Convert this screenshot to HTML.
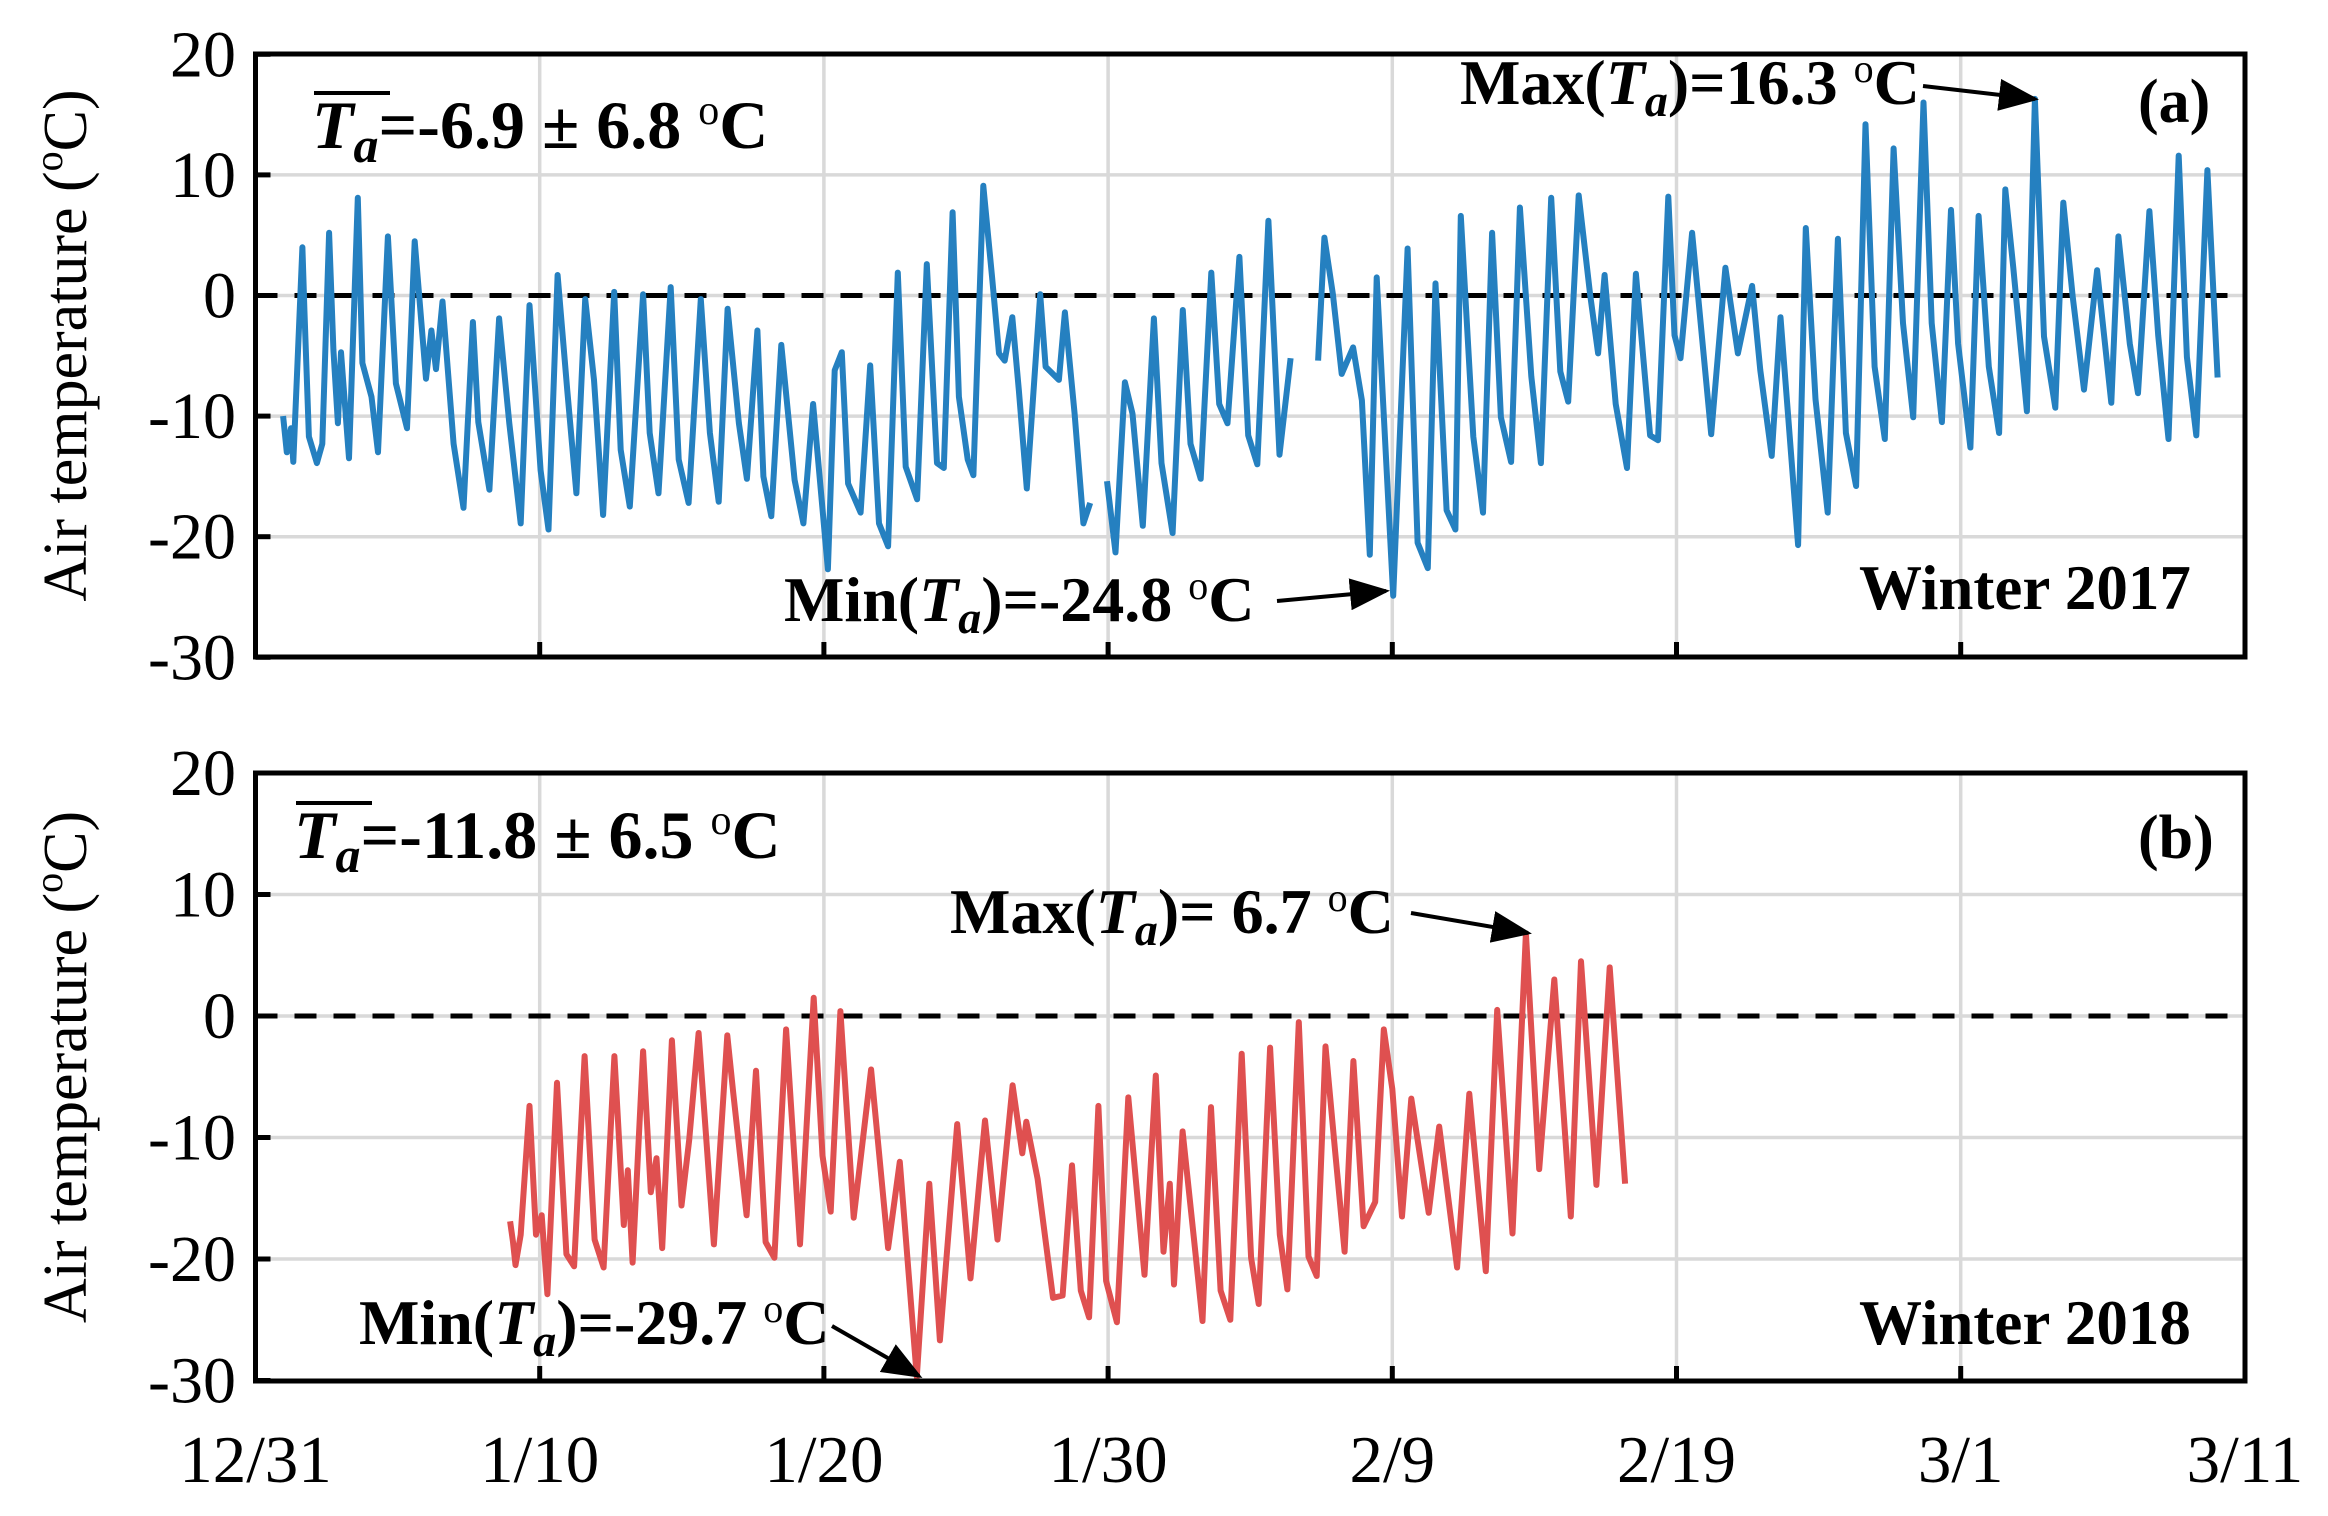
<!DOCTYPE html>
<html><head><meta charset="utf-8"><style>
html,body{margin:0;padding:0;background:#fff;}
svg{display:block;font-family:"Liberation Serif","Times New Roman",serif;}
</style></head><body>
<svg id="chart" width="2328" height="1516" viewBox="0 0 2328 1516" xmlns="http://www.w3.org/2000/svg">
<g id="grid"></g>
<g id="series"></g>
<g id="frames"></g>
<g id="labels"></g>
</svg>
<script>
// ---------- data ----------
const xTickLabels = ["12/31","1/10","1/20","1/30","2/9","2/19","3/1","3/11"];
const yTickLabels = [20,10,0,-10,-20,-30];
// Winter 2017 (panel a): day offset from 12/31, temperature in °C (null = data gap)
const dayA = [0.97,1.10,1.25,1.33,1.65,1.72,1.88,2.16,2.35,2.59,2.74,2.90,3.01,3.29,3.60,3.76,4.08,4.31,4.66,4.94,5.33,5.60,6.00,6.19,6.35,6.58,6.97,7.32,7.65,7.84,8.23,8.57,8.93,9.33,9.64,10.03,10.31,10.63,10.97,11.29,11.60,11.91,12.23,12.62,12.85,13.17,13.64,13.87,14.18,14.61,14.89,15.24,15.67,15.99,16.30,16.61,17.01,17.29,17.66,17.87,18.15,18.50,18.97,19.28,19.62,20.14,20.38,20.63,20.85,21.29,21.63,21.94,22.26,22.60,22.88,23.28,23.62,23.98,24.22,24.53,24.75,25.06,25.26,25.61,25.92,26.16,26.36,26.63,26.86,27.14,27.61,27.80,28.27,28.48,28.82,29.13,29.37,29.6,29.96,30.26,30.59,30.86,31.22,31.61,31.88,32.27,32.63,32.90,33.26,33.63,33.91,34.20,34.62,34.93,35.25,35.64,36.03,36.42,36.9,37.39,37.61,37.91,38.22,38.62,38.93,39.21,39.45,39.68,40.03,40.54,40.89,41.25,41.52,41.91,42.22,42.41,42.85,43.19,43.51,43.82,44.18,44.49,44.89,45.23,45.59,45.91,46.19,46.56,46.96,47.24,47.47,47.86,48.26,48.57,49.07,49.35,49.71,49.93,50.14,50.55,51.22,51.72,52.16,52.66,52.95,53.35,53.66,54.28,54.55,54.89,55.32,55.68,55.96,56.32,56.65,56.97,57.33,57.64,57.97,58.33,58.69,58.98,59.34,59.66,59.91,60.34,60.63,60.99,61.35,61.57,61.85,62.33,62.61,62.93,63.33,63.61,63.94,64.34,64.80,65.30,65.55,65.95,66.24,66.64,66.95,67.31,67.67,67.96,68.29,68.68,69.04];
const tempA = [-10,-13,-11,-13.8,4,-1.2,-11.7,-13.9,-12.3,5.2,-4.5,-10.6,-4.7,-13.5,8.1,-5.6,-8.4,-13,4.9,-7.3,-11,4.5,-6.9,-2.9,-6.1,-0.5,-12.3,-17.6,-2.2,-10.5,-16.1,-1.9,-10.6,-18.9,-0.8,-14.5,-19.4,1.7,-7.9,-16.4,-0.3,-7,-18.2,0.3,-12.8,-17.5,0.1,-11.4,-16.4,0.7,-13.6,-17.2,-0.3,-11.4,-17.1,-1.1,-10.6,-15.2,-2.9,-15,-18.3,-4.1,-15.3,-18.9,-9,-22.7,-6.2,-4.7,-15.6,-18,-5.8,-18.9,-20.8,1.9,-14.2,-16.9,2.6,-13.9,-14.3,6.9,-8.4,-13.6,-14.9,9.1,1.5,-4.8,-5.4,-1.8,-7.9,-16,0.1,-5.9,-7,-1.4,-9.8,-18.9,-17.2,null,-15.4,-21.3,-7.2,-9.8,-19.1,-1.9,-13.9,-19.7,-1.2,-12.3,-15.2,1.9,-9,-10.6,3.2,-11.6,-14,6.2,-13.2,-5.2,null,-5.4,4.8,0.1,-6.5,-4.3,-8.7,-21.5,1.5,-9,-24.9,3.9,-20.5,-22.6,1,-17.8,-19.4,6.6,-11.7,-18,5.2,-10.1,-13.8,7.3,-6.7,-13.9,8.1,-6.3,-8.8,8.3,0.1,-4.8,1.7,-9,-14.3,1.8,-11.6,-12,8.2,-3.3,-5.2,5.2,-11.5,2.3,-4.8,0.8,-6.2,-13.3,-1.8,-20.7,5.6,-8.6,-18,4.7,-11.4,-15.8,14.2,-5.9,-11.9,12.2,-2.3,-10.1,16,-2.3,-10.5,7.1,-4,-12.6,6.6,-5.9,-11.4,8.8,2.3,-9.6,16.3,-3.4,-9.3,7.7,-0.1,-7.8,2.1,-8.9,4.9,-4,-8.1,7,-3.3,-11.9,11.6,-5.1,-11.6,10.4,-6.8];
// Winter 2018 (panel b)
const dayB = [8.96,9.06,9.15,9.33,9.64,9.87,10.07,10.27,10.61,10.94,11.21,11.58,11.93,12.25,12.63,12.96,13.10,13.27,13.64,13.91,14.11,14.31,14.65,14.99,15.26,15.59,16.13,16.60,16.81,17.28,17.61,17.95,18.26,18.67,19.16,19.64,19.95,20.24,20.58,21.05,21.66,22.26,22.67,23.27,23.71,24.08,24.69,25.16,25.67,26.11,26.64,26.98,27.12,27.52,28.06,28.40,28.73,29.04,29.33,29.66,29.93,30.31,30.71,31.28,31.68,31.95,32.17,32.32,32.62,33.02,33.32,33.62,33.96,34.30,34.70,35.03,35.30,35.70,36.04,36.31,36.71,37.05,37.34,37.65,37.99,38.32,38.63,38.99,39.40,39.70,40.00,40.34,40.67,41.28,41.65,42.28,42.71,43.29,43.69,44.23,44.70,45.17,45.70,46.28,46.64,47.18,47.65,48.19];
const tempB = [-16.9,-18.6,-20.5,-18,-7.4,-18,-16.4,-22.9,-5.5,-19.6,-20.6,-3.3,-18.4,-20.7,-3.3,-17.2,-12.7,-20.3,-2.9,-14.5,-11.7,-19.1,-2,-15.6,-10.2,-1.4,-18.8,-1.6,-6.3,-16.4,-4.5,-18.6,-19.9,-1.1,-18.8,1.5,-11.5,-16.1,0.4,-16.6,-4.4,-19.1,-12,-29.7,-13.8,-26.7,-8.9,-21.6,-8.6,-18.4,-5.7,-11.3,-8.7,-13.4,-23.2,-23,-12.3,-22.6,-24.8,-7.4,-21.8,-25.2,-6.7,-21.3,-4.9,-19.4,-13.8,-22.1,-9.5,-18.3,-25.1,-7.5,-22.6,-25,-3.1,-19.9,-23.7,-2.6,-18,-22.5,-0.5,-19.8,-21.4,-2.5,-11.2,-19.4,-3.7,-17.3,-15.3,-1.1,-6,-16.5,-6.8,-16.2,-9.1,-20.7,-6.4,-21,0.5,-17.9,6.8,-12.6,3,-16.5,4.5,-13.9,4,-13.8];

// ---------- layout ----------
const X0 = 255.5, DAYPX = 284.2/10, XR = 2245;
const panels = [
  {name:"a", top:54, bottom:657, zeroY:295.5, per:12.06, days:dayA, temps:tempA, color:"#2580c0"},
  {name:"b", top:773, bottom:1381, zeroY:1016, per:12.15, days:dayB, temps:tempB, color:"#df5050"}
];
const NS = "http://www.w3.org/2000/svg";
function xScale(d){ return X0 + d*DAYPX; }
function mk(tag, attrs, parent){ const e=document.createElementNS(NS,tag); for(const k in attrs) e.setAttribute(k,attrs[k]); parent.appendChild(e); return e; }
const grid=document.getElementById('grid'), series=document.getElementById('series'), frames=document.getElementById('frames'), labels=document.getElementById('labels');

panels.forEach(p=>{
  const yScale = v => p.zeroY - v*p.per;
  for(let i=1;i<xTickLabels.length-1;i++){
    const gx = xScale(i*10);
    const l = mk('line',{x1:gx,x2:gx,y1:p.top,y2:p.bottom,stroke:"#d9d9d9","stroke-width":3.5},grid);
    
    
  }
  yTickLabels.forEach(v=>{
    if(v===20||v===-30) return;
    const gy=yScale(v);
    const l=mk('line',{x1:X0,x2:XR,y1:gy,y2:gy,stroke:"#d9d9d9","stroke-width":3.5},grid);
    
    
  });
  const z=mk('line',{x1:X0,x2:XR,y1:yScale(0),y2:yScale(0),stroke:"#000","stroke-width":5,"stroke-dasharray":"22 17"},grid);
  
  
  let d="", pen=false;
  for(let i=0;i<p.days.length;i++){
    const v=p.temps[i];
    if(v===null){pen=false;continue;}
    d += (pen?"L":"M")+xScale(p.days[i]).toFixed(1)+" "+yScale(v).toFixed(1)+" ";
    pen=true;
  }
  const path=mk('path',{d:d,fill:"none",stroke:p.color,"stroke-width":6,"stroke-linejoin":"round"},series);
  
  
  const r=mk('rect',{x:X0,y:p.top,width:XR-X0,height:p.bottom-p.top,fill:"none",stroke:"#000","stroke-width":5},frames);
  
  
  yTickLabels.forEach(v=>{
    const gy=yScale(v);
    const t=mk('line',{x1:X0,x2:X0+15,y1:gy,y2:gy,stroke:"#000","stroke-width":5},frames);
    
    
    const tx=mk('text',{x:236,y:gy+22,"font-size":66,"text-anchor":"end",fill:"#000"},labels);
    tx.textContent=String(v);
    
    
  });
  for(let i=1;i<xTickLabels.length-1;i++){
    const gx=xScale(i*10);
    const t=mk('line',{x1:gx,x2:gx,y1:p.bottom,y2:p.bottom-15,stroke:"#000","stroke-width":5},frames);
    
    
  }
  const cy=(p.top+p.bottom)/2 - 10;
  const yt=mk('text',{x:0,y:0,"font-size":62,"text-anchor":"middle",transform:`translate(86 ${cy}) rotate(-90)`},labels);
  yt.innerHTML='Air temperature (<tspan font-size="40" dy="-24">o</tspan><tspan dy="24">C)</tspan>';
  
  
});
xTickLabels.forEach((s,i)=>{
  const t=mk('text',{x:xScale(i*10),y:1482,"font-size":67,"text-anchor":"middle"},labels);
  t.textContent=s;
  
  
});
</script>
<svg style="position:absolute;left:0;top:0" width="2328" height="1516" viewBox="0 0 2328 1516" font-family="Liberation Serif, serif" font-weight="bold">
<defs><marker id="ah" markerWidth="10" markerHeight="8" refX="9" refY="4" orient="auto" markerUnits="strokeWidth"><path d="M0 0 L10 4 L0 8 Z" fill="#000"/></marker></defs>
<g>
<line x1="314" y1="93" x2="390" y2="93" stroke="#000" stroke-width="4"/>
<text x="312" y="148" font-size="68"><tspan font-style="italic">T</tspan><tspan font-style="italic" font-size="50" dy="14">a</tspan><tspan dy="-14">=-6.9 ± 6.8 </tspan><tspan font-size="42" font-weight="normal" dy="-24">o</tspan><tspan dy="24">C</tspan></text>
</g>
<text x="1460" y="104" font-size="64">Max(<tspan font-style="italic">T</tspan><tspan font-style="italic" font-size="46" dy="12">a</tspan><tspan dy="-12">)=16.3 </tspan><tspan font-size="40" font-weight="normal" dy="-22">o</tspan><tspan dy="22">C</tspan></text>
<line x1="1923" y1="86" x2="2035" y2="99" stroke="#000" stroke-width="4" marker-end="url(#ah)"/>
<text x="2138" y="122" font-size="62">(a)</text>
<text x="784" y="621" font-size="64">Min(<tspan font-style="italic">T</tspan><tspan font-style="italic" font-size="46" dy="12">a</tspan><tspan dy="-12">)=-24.8 </tspan><tspan font-size="40" font-weight="normal" dy="-22">o</tspan><tspan dy="22">C</tspan></text>
<line x1="1277" y1="601" x2="1386" y2="591" stroke="#000" stroke-width="4" marker-end="url(#ah)"/>
<text x="1859" y="609" font-size="63">Winter 2017</text>
<g>
<line x1="296" y1="803" x2="372" y2="803" stroke="#000" stroke-width="4"/>
<text x="294" y="858" font-size="68"><tspan font-style="italic">T</tspan><tspan font-style="italic" font-size="50" dy="14">a</tspan><tspan dy="-14">=-11.8 ± 6.5 </tspan><tspan font-size="42" font-weight="normal" dy="-24">o</tspan><tspan dy="24">C</tspan></text>
</g>
<text x="2138" y="858" font-size="62">(b)</text>
<text x="950" y="933" font-size="64">Max(<tspan font-style="italic">T</tspan><tspan font-style="italic" font-size="46" dy="12">a</tspan><tspan dy="-12">)= 6.7 </tspan><tspan font-size="40" font-weight="normal" dy="-22">o</tspan><tspan dy="22">C</tspan></text>
<line x1="1411" y1="913" x2="1528" y2="933" stroke="#000" stroke-width="4" marker-end="url(#ah)"/>
<text x="359" y="1344" font-size="64">Min(<tspan font-style="italic">T</tspan><tspan font-style="italic" font-size="46" dy="12">a</tspan><tspan dy="-12">)=-29.7 </tspan><tspan font-size="40" font-weight="normal" dy="-22">o</tspan><tspan dy="22">C</tspan></text>
<line x1="832" y1="1326" x2="919" y2="1376" stroke="#000" stroke-width="4" marker-end="url(#ah)"/>
<text x="1859" y="1344" font-size="63">Winter 2018</text>
</svg>
</body></html>
